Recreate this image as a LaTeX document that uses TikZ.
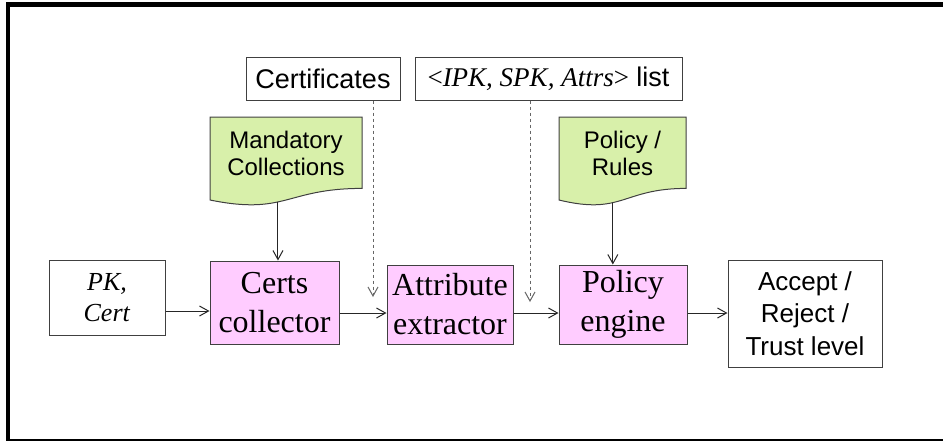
\documentclass[tikz,border=0pt]{standalone}
\usepackage{fontspec}
\setmainfont{Liberation Serif}
\setsansfont{Liberation Sans}
\usetikzlibrary{positioning,calc,arrows.meta}

\definecolor{procpink}{HTML}{FFCCFF}
\definecolor{docgreen}{HTML}{D8F0AA}

\tikzset{
    box/.style={draw=black!75, line width=0.5pt, inner sep=0pt, align=center},
    procbox/.style={box, fill=procpink, font=\fontsize{16}{19.5}\selectfont},
    inbox/.style={box, fill=white, font=\sffamily\fontsize{13.5}{16}\selectfont},
    outbox/.style={box, font=\sffamily\fontsize{13}{16.25}\selectfont},
    docfill/.style={draw=black!75, line width=0.5pt, fill=docgreen},
    doctext/.style={align=center, inner sep=0pt, font=\sffamily\fontsize{12}{13.5}\selectfont},
    arr/.style={draw=black!85, line width=0.5pt, -{Straight Barb[length=4.5pt,width=5pt]}},
    dasharr/.style={arr, draw=black!60, dash pattern=on 1.5pt off 1.5pt}
}

\begin{document}
\begin{tikzpicture}[x=0.5pt, y=-0.5pt]
    \useasboundingbox (0,0) rectangle (943,441);

    % Frame
    \draw[line width=2.2pt] (943,4.3) -- (8,4.3) -- (8,441);
    \draw[line width=0.8pt] (6,440) -- (943,440);

    % Inputs on top
    \node[inbox, minimum width=77pt, minimum height=21.5pt] (certlist) at (323,78.5) {Certificates};
    \node[inbox, minimum width=133.5pt, minimum height=21.5pt] (attrlist) at (548.5,78.5)
        {\textrm{<\textit{IPK, SPK, Attrs}>} list};

    % Documents
    \filldraw[docfill] (210,117) -- (362,117) -- (362,188.4)
        .. controls (286,188.4) and (286,215.5) .. coordinate[pos=0.57] (mandbot) (210,200) -- cycle;
    \node[doctext] (mand) at (286,153) {Mandatory\\Collections};

    \filldraw[docfill] (559,117) -- (686,117) -- (686,188.4)
        .. controls (622.5,188.4) and (622.5,215.5) .. coordinate[pos=0.6] (rulesbot) (559,200) -- cycle;
    \node[doctext] (rules) at (622.5,153) {Policy /\\Rules};

    % Main row
    \node[box, minimum width=58pt, minimum height=37.5pt, font=\fontsize{13}{15.5}\selectfont] (pkc) at (107,297.5)
        {\textit{PK,}\\\textit{Cert}};
    \node[procbox, minimum width=64.5pt, minimum height=41.5pt] (certs) at (274.5,302.5) {Certs\\collector};
    \node[procbox, minimum width=63pt, minimum height=39.5pt] (attr) at (450,304.5) {Attribute\\extractor};
    \node[procbox, minimum width=64pt, minimum height=39.5pt] (engine) at (623,304.5) {Policy\\engine};
    \node[outbox, minimum width=77pt, minimum height=53.5pt] (result) at (805,313.5)
        {Accept /\\Reject /\\Trust level};

    % Drop points of the dashed inputs
    \coordinate (cdrop) at (373,297);
    \coordinate (ldrop) at (530,302);

    % Connectors
    \draw[arr] (pkc.east |- 0,311) -- (certs.west |- 0,311);
    \draw[arr] (certs.east |- 0,313) -- (attr.west |- 0,313);
    \draw[arr] (attr.east |- 0,313) -- (engine.west |- 0,313);
    \draw[arr] (engine.east |- 0,313) -- (result.west |- 0,313);
    \draw[arr] (mandbot) -- (mandbot |- certs.north);
    \draw[arr] (rulesbot) -- (rulesbot |- engine.north);
    \draw[dasharr] (certlist.south -| cdrop) -- (cdrop);
    \draw[dasharr] (attrlist.south -| ldrop) -- (ldrop);
\end{tikzpicture}
\end{document}
